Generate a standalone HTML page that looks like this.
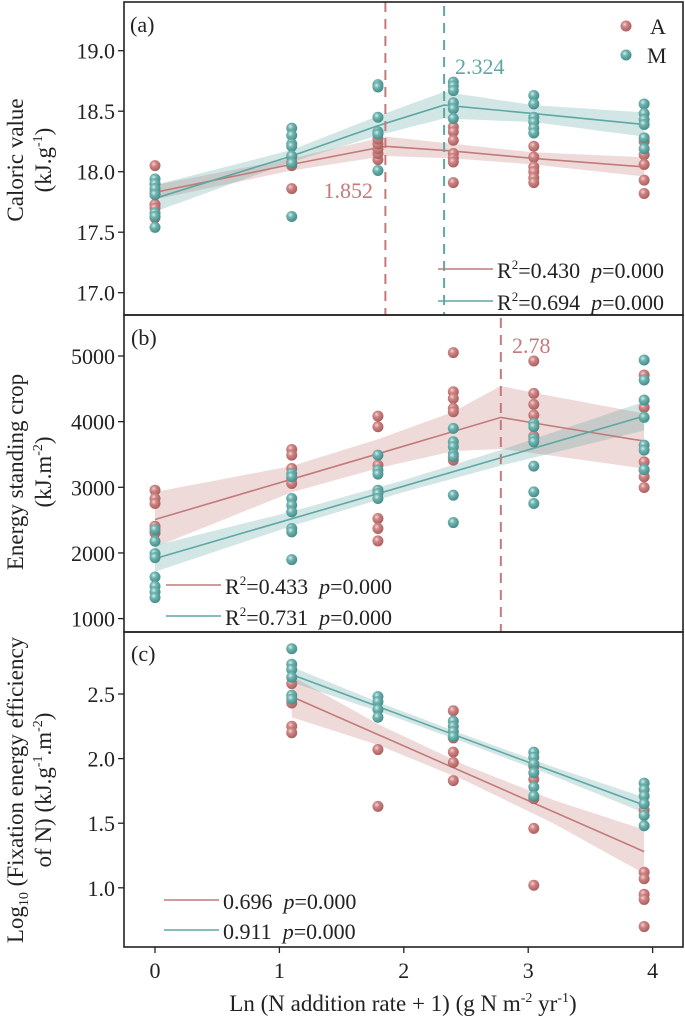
<!DOCTYPE html>
<html><head><meta charset="utf-8"><style>
html,body{margin:0;padding:0;background:#fff;}
svg{display:block;font-family:"Liberation Serif",serif;}
</style></head><body>
<svg id="chart" width="685" height="1019" viewBox="0 0 685 1019">
<defs>
<radialGradient id="gA" cx="0.38" cy="0.35" r="0.7"><stop offset="0" stop-color="#f3d4d4"/><stop offset="0.35" stop-color="#cf8585"/><stop offset="1" stop-color="#a85a5a"/></radialGradient>
<radialGradient id="gM" cx="0.38" cy="0.35" r="0.7"><stop offset="0" stop-color="#d6efee"/><stop offset="0.35" stop-color="#6fb3af"/><stop offset="1" stop-color="#3f8985"/></radialGradient>
</defs>
</svg>
<script>
// ---- shared x data ----
const groupX = [0, 1.099, 1.792, 2.398, 3.045, 3.932];
// ---- panel a data ----
const aA = [[18.05,17.90,17.83,17.73,17.70,17.62],[17.86,18.12,18.08,18.05],[18.10,18.15,18.19,18.23,18.27],[18.37,18.33,18.26,18.15,18.11,18.08,17.91],[18.21,18.12,18.04,18.00,17.95,17.91],[18.25,18.14,18.06,17.93,17.82]];
const aM = [[17.94,17.90,17.86,17.81,17.66,17.63,17.54],[18.36,18.30,18.23,18.21,18.13,18.07,17.63],[18.72,18.70,18.45,18.33,18.31,18.01],[18.74,18.71,18.67,18.57,18.52,18.44],[18.63,18.56,18.45,18.41,18.36,18.32],[18.56,18.48,18.43,18.39,18.28,18.19]];
const aFitAX = [0, 1.099, 1.852, 2.398, 3.045, 3.932];
const aFitA = [17.83, 18.06, 18.21, 18.17, 18.11, 18.04];
const aBandA = [0.06, 0.05, 0.08, 0.06, 0.05, 0.08];
const aFitMX = [0, 1.099, 1.792, 2.324, 3.045, 3.932];
const aFitM = [17.78, 18.13, 18.38, 18.55, 18.48, 18.39];
const aBandM = [0.11, 0.05, 0.08, 0.11, 0.07, 0.1];
const aTicks = [17.0, 17.5, 18.0, 18.5, 19.0];
// ---- panel b data ----
const bA = [[2956,2829,2753,2407,2305],[3576,3490,3287,3134,3058],[4085,3922,3338,2524,2372,2183],[5051,4456,4354,4202,4151,3414],[4924,4431,4263,4100,3780],[4710,4217,3388,3261,3160,2997]];
const bM = [[2356,2178,1990,1929,1634,1492,1406,1319],[3210,3160,2829,2727,2626,2372,2321,1899],[3490,3261,3200,2956,2905,2829],[3897,3693,3617,3505,3465,2880,2463],[3973,3922,3744,3693,3322,2931,2753],[4939,4634,4329,4065,3643,3566,3271]];
const bFitAX = [0, 1.099, 1.792, 2.398, 2.78, 3.045, 3.932];
const bFitA = [2509, 3124, 3511, 3850, 4065, 3980, 3704];
const bBandA = [420, 200, 220, 300, 480, 460, 420];
const bFitMX = [0, 3.932];
const bFitM = [1914, 4085];
const bBandMX = [0, 1.1, 2.0, 2.8, 3.932];
const bBandM = [200, 110, 90, 120, 220];
const bTicks = [1000, 2000, 3000, 4000, 5000];
// ---- panel c data ----
const cA = [[],[2.58,2.43,2.25,2.20],[2.07,1.63],[2.37,2.16,2.05,1.97,1.83],[1.94,1.84,1.69,1.46,1.02],[1.60,1.12,1.07,0.95,0.91,0.70]];
const cM = [[],[2.85,2.73,2.69,2.63,2.49,2.46],[2.48,2.44,2.38,2.32],[2.29,2.25,2.21,2.17],[2.05,2.01,1.96,1.89,1.78,1.71],[1.81,1.76,1.71,1.65,1.56,1.48]];
const cFitA = [2.48, 1.28];
const cFitM = [2.65, 1.64];
const cBandX = [1.099, 1.8, 2.5, 3.2, 3.932];
const cBandA = [0.16, 0.08, 0.06, 0.09, 0.17];
const cBandM = [0.06, 0.035, 0.03, 0.035, 0.06];
const cTicks = [1.0, 1.5, 2.0, 2.5];
const xTicks = [0, 1, 2, 3, 4];

const RED = "#c47a7a", TEAL = "#5ea7a3";
const NS = "http://www.w3.org/2000/svg";
const svg = document.getElementById("chart");
function el(tag, attrs, parent) {
  const e = document.createElementNS(NS, tag);
  for (const k in attrs) e.setAttribute(k, attrs[k]);
  (parent || svg).appendChild(e);
  return e;
}
const X0 = 124, X1 = 683;
const sx = v => 155 + v * 124.4;
const panels = [
  {top: 2, bot: 315, y: v => 50.7 + (19 - v) * 121, ticks: aTicks, fmt: v => v.toFixed(1), name: "panel-a"},
  {top: 315, bot: 632, y: v => 356 + (5000 - v) * 0.06565, ticks: bTicks, fmt: v => String(v), name: "panel-b"},
  {top: 632, bot: 947, y: v => 694 + (2.5 - v) * 129.2, ticks: cTicks, fmt: v => v.toFixed(1), name: "panel-c"}
];
function interp(xs, ys, x) {
  for (let i = 0; i < xs.length - 1; i++) if (x <= xs[i + 1]) { const t = (x - xs[i]) / (xs[i + 1] - xs[i]); return ys[i] + t * (ys[i + 1] - ys[i]); }
  return ys[ys.length - 1];
}
function band(g, P, xs, fitFn, bandXs, bandYs, color, name) {
  let up = [], lo = [];
  for (const x of xs) { const f = fitFn(x), b = interp(bandXs, bandYs, x); up.push(sx(x).toFixed(1) + "," + P.y(f + b).toFixed(1)); lo.push(sx(x).toFixed(1) + "," + P.y(f - b).toFixed(1)); }
  const p = el("polygon", {points: up.concat(lo.reverse()).join(" "), fill: color, "fill-opacity": 0.28, stroke: "none"}, g);
  
  
}
function fitLine(g, P, xs, ys, color, name) {
  const p = el("polyline", {points: xs.map((x, i) => sx(x).toFixed(1) + "," + P.y(ys[i]).toFixed(1)).join(" "), fill: "none", stroke: color, "stroke-width": 1.6}, g);
  
  
}
function points(g, P, data, grad, name) {
  data.forEach((arr, gi) => arr.forEach(v => {
    const c = el("circle", {cx: sx(groupX[gi]), cy: P.y(v), r: 5.5, fill: "url(#" + grad + ")"}, g);
    
    
  }));
}
function dense(xs) { const out = []; for (let i = 0; i < xs.length - 1; i++) for (let k = 0; k < 8; k++) out.push(xs[i] + (xs[i + 1] - xs[i]) * k / 8); out.push(xs[xs.length - 1]); return out; }
function text(g, x, y, str, attrs, name) {
  const t = el("text", Object.assign({x: x, y: y, "font-size": 22, fill: "#222"}, attrs || {}), g);
  t.innerHTML = str;
  
  
  return t;
}
const SP = "&#160;&#160;";

panels.forEach((P, pi) => {
  const g = el("g", {});
  
  
  const clipId = "clip" + pi;
  const cp = el("clipPath", {id: clipId}, g);
  el("rect", {x: X0, y: P.top, width: X1 - X0, height: P.bot - P.top}, cp);
  const plot = el("g", {"clip-path": "url(#" + clipId + ")"}, g);
  if (pi === 0) {
    band(plot, P, dense(aFitAX), x => interp(aFitAX, aFitA, x), aFitAX, aBandA, RED, "band-a-A");
    band(plot, P, dense(aFitMX), x => interp(aFitMX, aFitM, x), aFitMX, aBandM, TEAL, "band-a-M");
    fitLine(plot, P, aFitAX, aFitA, RED, "fit-line-A");
    fitLine(plot, P, aFitMX, aFitM, TEAL, "fit-line-M");
    points(plot, P, aA, "gA", "point-A");
    points(plot, P, aM, "gM", "point-M");
    const d1 = el("line", {x1: sx(1.852), x2: sx(1.852), y1: P.top, y2: P.bot, stroke: RED, "stroke-width": 2, "stroke-dasharray": "10,7"}, plot);
     
    const d2 = el("line", {x1: sx(2.324), x2: sx(2.324), y1: P.top + 4, y2: P.bot, stroke: TEAL, "stroke-width": 2, "stroke-dasharray": "10,7"}, plot);
     
    text(g, 373, 198, "1.852", {fill: RED, "text-anchor": "end"}, "breakpoint-label-A");
    text(g, 455, 74, "2.324", {fill: TEAL}, "breakpoint-label-M");
    text(g, 130, 32, "(a)", {}, "panel-label");
    el("circle", {cx: 626, cy: 26, r: 5.5, fill: "url(#gA)"}, g);
    el("circle", {cx: 626, cy: 55, r: 5.5, fill: "url(#gM)"}, g);
    text(g, 650, 34, "A", {}, "legend-A");
    text(g, 647, 63, "M", {}, "legend-M");
    el("line", {x1: 438, x2: 493, y1: 269, y2: 269, stroke: RED, "stroke-width": 1.6}, g);
    el("line", {x1: 438, x2: 493, y1: 301, y2: 301, stroke: TEAL, "stroke-width": 1.6}, g);
    text(g, 497, 278, 'R<tspan font-size="13" dy="-9">2</tspan><tspan dy="9">=0.430' + SP + '</tspan><tspan font-style="italic">p</tspan>=0.000', {}, "stat-A");
    text(g, 497, 310, 'R<tspan font-size="13" dy="-9">2</tspan><tspan dy="9">=0.694' + SP + '</tspan><tspan font-style="italic">p</tspan>=0.000', {}, "stat-M");
  } else if (pi === 1) {
    band(plot, P, dense(bFitAX), x => interp(bFitAX, bFitA, x), bFitAX, bBandA, RED, "band-b-A");
    band(plot, P, dense(bBandMX), x => interp(bFitMX, bFitM, x), bBandMX, bBandM, TEAL, "band-b-M");
    fitLine(plot, P, bFitAX, bFitA, RED, "fit-line-A");
    fitLine(plot, P, bFitMX, bFitM, TEAL, "fit-line-M");
    points(plot, P, bA, "gA", "point-A");
    points(plot, P, bM, "gM", "point-M");
    const d = el("line", {x1: sx(2.78), x2: sx(2.78), y1: P.top + 3, y2: P.bot, stroke: RED, "stroke-width": 2, "stroke-dasharray": "10,7"}, plot);
     
    text(g, 512, 353, "2.78", {fill: RED}, "breakpoint-label-A");
    text(g, 131, 345, "(b)", {}, "panel-label");
    el("line", {x1: 166, x2: 221, y1: 585, y2: 585, stroke: RED, "stroke-width": 1.6}, g);
    el("line", {x1: 166, x2: 221, y1: 616, y2: 616, stroke: TEAL, "stroke-width": 1.6}, g);
    text(g, 225, 594, 'R<tspan font-size="13" dy="-9">2</tspan><tspan dy="9">=0.433' + SP + '</tspan><tspan font-style="italic">p</tspan>=0.000', {}, "stat-A");
    text(g, 225, 625, 'R<tspan font-size="13" dy="-9">2</tspan><tspan dy="9">=0.731' + SP + '</tspan><tspan font-style="italic">p</tspan>=0.000', {}, "stat-M");
  } else {
    const xs = [1.099, 3.932];
    band(plot, P, dense(cBandX), x => interp(xs, cFitA, x), cBandX, cBandA, RED, "band-c-A");
    band(plot, P, dense(cBandX), x => interp(xs, cFitM, x), cBandX, cBandM, TEAL, "band-c-M");
    fitLine(plot, P, xs, cFitA, RED, "fit-line-A");
    fitLine(plot, P, xs, cFitM, TEAL, "fit-line-M");
    points(plot, P, cA, "gA", "point-A");
    points(plot, P, cM, "gM", "point-M");
    text(g, 131, 661, "(c)", {}, "panel-label");
    el("line", {x1: 164, x2: 219, y1: 900, y2: 900, stroke: RED, "stroke-width": 1.6}, g);
    el("line", {x1: 164, x2: 219, y1: 930, y2: 930, stroke: TEAL, "stroke-width": 1.6}, g);
    text(g, 223, 909, '0.696' + SP + '<tspan font-style="italic">p</tspan>=0.000', {}, "stat-A");
    text(g, 223, 939, '0.911' + SP + '<tspan font-style="italic">p</tspan>=0.000', {}, "stat-M");
    xTicks.forEach(v => {
      el("line", {x1: sx(v), x2: sx(v), y1: P.bot, y2: P.bot + 6, stroke: "#222", "stroke-width": 1.3}, g);
      text(g, sx(v), 978, String(v), {"text-anchor": "middle"}, "x-tick-label");
    });
  }
  const fr = el("rect", {x: X0, y: P.top, width: X1 - X0, height: P.bot - P.top, fill: "none", stroke: "#222", "stroke-width": 1.6}, g);
   
  P.ticks.forEach(v => {
    el("line", {x1: X0 - 6, x2: X0, y1: P.y(v), y2: P.y(v), stroke: "#222", "stroke-width": 1.3}, g);
    text(g, 115, P.y(v) + 8, P.fmt(v), {"text-anchor": "end"}, "y-tick-label");
  });
});
function ylab(cx, cy, html, name) {
  text(svg, 0, 0, html, {"text-anchor": "middle", transform: "translate(" + cx + "," + cy + ") rotate(-90)", "font-size": 23}, name);
}
ylab(23, 160, "Caloric value", "y-axis-title-a");
ylab(51, 160, '(kJ.g<tspan font-size="14" dy="-9">-1</tspan><tspan dy="9">)</tspan>', "y-axis-unit-a");
ylab(23, 472, "Energy standing crop", "y-axis-title-b");
ylab(51, 472, '(kJ.m<tspan font-size="14" dy="-9">-2</tspan><tspan dy="9">)</tspan>', "y-axis-unit-b");
ylab(23, 790, 'Log<tspan font-size="14" dy="5">10</tspan><tspan dy="-5"> (Fixation energy efficiency</tspan>', "y-axis-title-c");
ylab(51, 790, 'of N) (kJ.g<tspan font-size="14" dy="-9">-1</tspan><tspan dy="9">.m</tspan><tspan font-size="14" dy="-9">-2</tspan><tspan dy="9">)</tspan>', "y-axis-unit-c");
text(svg, 403, 1011, 'Ln (N addition rate + 1) (g N m<tspan font-size="14" dy="-9">-2</tspan><tspan dy="9"> yr</tspan><tspan font-size="14" dy="-9">-1</tspan><tspan dy="9">)</tspan>', {"text-anchor": "middle", "font-size": 23}, "x-axis-title");
</script>
</body></html>
